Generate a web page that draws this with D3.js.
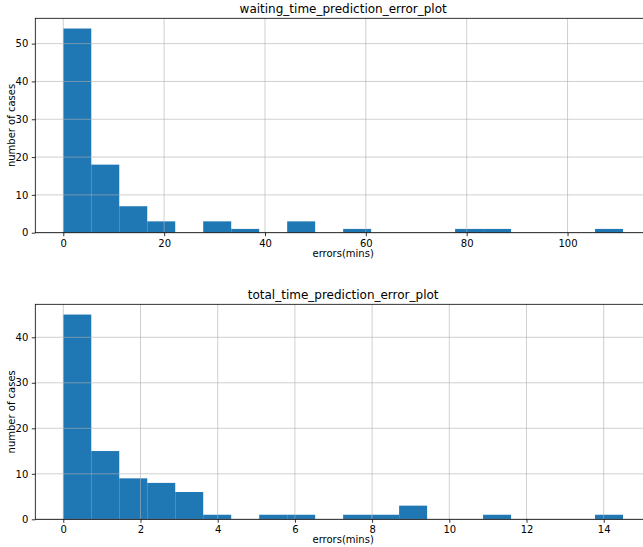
<!DOCTYPE html>
<html>
<head>
<meta charset="utf-8">
<script src="https://cdn.jsdelivr.net/npm/d3@7"></script>
<style>
  body { margin: 0; background: #fff; }
  svg { display: block; }
  text { font-family: "DejaVu Sans", sans-serif; fill: #000; }
</style>
</head>
<body>
<div id="chart"></div>
<script>
// histogram counts (20 bins each)
const waitCounts = [54, 18, 7, 3, 0, 3, 1, 0, 3, 0, 1, 0, 0, 0, 1, 1, 0, 0, 0, 1];
const waitRange = [0, 111];
const waitTicks = [0, 20, 40, 60, 80, 100];
const waitYTicks = [0, 10, 20, 30, 40, 50];

const totalCounts = [45, 15, 9, 8, 6, 1, 0, 1, 1, 0, 1, 1, 3, 0, 0, 1, 0, 0, 0, 1];
const totalRange = [0, 14.5];
const totalTicks = [0, 2, 4, 6, 8, 10, 12, 14];
const totalYTicks = [0, 10, 20, 30, 40];

const W = 643, H = 547;
const svg = d3.select("#chart").append("svg").attr("width", W).attr("height", H);

function drawHist(cfg) {
    const { counts, range, xTicks, yTicks, title, top, bottom } = cfg;
    const left = 35.3, right = 651;
    const n = counts.length;
    const bw = (range[1] - range[0]) / n;
    const span = range[1] - range[0];
    const bins = counts.map((c, i) => ({ x0: range[0] + i * bw, x1: range[0] + (i + 1) * bw, count: c }));

    const x = d3.scaleLinear()
        .domain([range[0] - span * 0.05, range[1] + span * 0.05])
        .range([left, right]);
    const y = d3.scaleLinear()
        .domain([0, d3.max(counts) * 1.05])
        .range([bottom, top]);

    const g = svg.append("g");

    // bars
    g.append("g").selectAll("rect")
        .data(bins.filter(b => b.count > 0))
        .enter().append("rect")
        .attr("x", d => x(d.x0))
        .attr("width", d => x(d.x1) - x(d.x0))
        .attr("y", d => y(d.count))
        .attr("height", d => y(0) - y(d.count))
        .attr("fill", "#1f77b4");

    // grid (drawn over the bars, semi transparent)
    const grid = g.append("g").attr("stroke", "#b0b0b0").attr("stroke-width", 0.8).attr("stroke-opacity", 0.75);
    grid.selectAll("line.gx").data(xTicks).enter().append("line")
        .attr("x1", d => x(d)).attr("x2", d => x(d))
        .attr("y1", top).attr("y2", bottom);
    grid.selectAll("line.gy").data(yTicks).enter().append("line")
        .attr("x1", left).attr("x2", right)
        .attr("y1", d => y(d)).attr("y2", d => y(d));

    // axes
    const xAxis = d3.axisBottom(x).tickValues(xTicks).tickSize(3.5).tickPadding(3.5).tickFormat(d3.format("d"));
    const yAxis = d3.axisLeft(y).tickValues(yTicks).tickSize(3.5).tickPadding(3.5).tickFormat(d3.format("d"));

    const gx = g.append("g").attr("transform", `translate(0,${bottom})`).call(xAxis);
    const gy = g.append("g").attr("transform", `translate(${left},0)`).call(yAxis);
    [gx, gy].forEach(a => {
        a.select(".domain").remove();
        a.selectAll("text").attr("font-size", 10).attr("font-family", "DejaVu Sans, sans-serif").attr("fill", "#000");
        a.selectAll("line").attr("stroke", "#000").attr("stroke-width", 0.8);
    });

    // spines
    g.append("rect")
        .attr("x", left).attr("y", top)
        .attr("width", right - left).attr("height", bottom - top)
        .attr("fill", "none").attr("stroke", "#000").attr("stroke-width", 0.8);

    // labels
    const cx = (left + right) / 2;
    g.append("text").attr("x", cx).attr("y", top - 5.5)
        .attr("text-anchor", "middle").attr("font-size", 12).text(title);
    g.append("text").attr("x", cx).attr("y", bottom + 24)
        .attr("text-anchor", "middle").attr("font-size", 10).text("errors(mins)");
    g.append("text")
        .attr("transform", `translate(14.5,${(top + bottom) / 2}) rotate(-90)`)
        .attr("text-anchor", "middle").attr("font-size", 10).text("number of cases");
}

drawHist({
    counts: waitCounts, range: waitRange, xTicks: waitTicks, yTicks: waitYTicks,
    title: "waiting_time_prediction_error_plot", top: 18.3, bottom: 232.7
});
drawHist({
    counts: totalCounts, range: totalRange, xTicks: totalTicks, yTicks: totalYTicks,
    title: "total_time_prediction_error_plot", top: 304.3, bottom: 519.3
});
</script>
</body>
</html>
